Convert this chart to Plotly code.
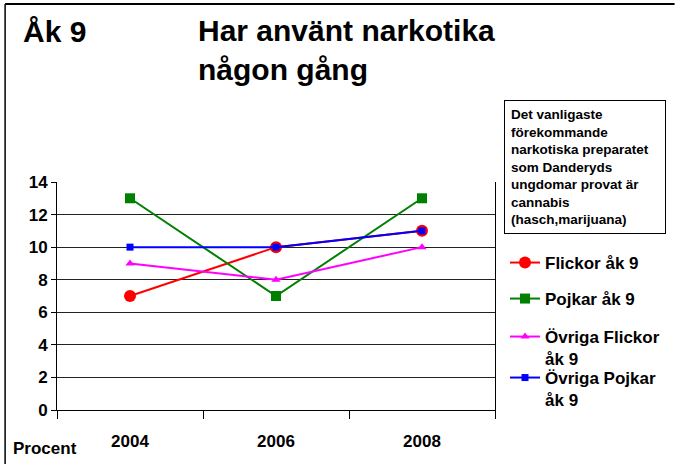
import plotly.graph_objects as go

# data
years = ["2004", "2006", "2008"]
flickor = [7, 10, 11]
pojkar = [13, 7, 13]
ovriga_flickor = [9, 8, 10]
ovriga_pojkar = [10, 10, 11]

y_ticks = [0, 2, 4, 6, 8, 10, 12, 14]

FONT = "Liberation Sans, Arial, sans-serif"
xpos = list(range(len(years)))

# plot area in pixels: x 57..496, y 182..410
L, R, T, B = 57, 496, 182, 410
W, H = R - L, B - T


def px(x):
    return (x - L) / W


def py(y):
    return (B - y) / H


series = [
    ("Flickor åk 9", flickor, "#ff0000", "circle", 12, 245),
    ("Pojkar åk 9", pojkar, "#008000", "square", 10, 281),
    ("Övriga Flickor<br>åk 9", ovriga_flickor, "#ff00ff", "triangle-up", 8, 319),
    ("Övriga Pojkar<br>åk 9", ovriga_pojkar, "#0000ff", "square", 7, 360),
]

fig = go.Figure()
legends = {}
for i, (name, vals, col, sym, size, ltop) in enumerate(series):
    lname = "legend" if i == 0 else "legend%d" % (i + 1)
    fig.add_trace(go.Scatter(
        x=xpos, y=vals, name=name, mode="lines+markers",
        line=dict(color=col, width=2),
        marker=dict(symbol=sym, size=size, color=col),
        legend=lname,
    ))
    legends[lname] = dict(
        x=px(505), y=py(ltop), xanchor="left", yanchor="top",
        font=dict(size=17, weight="bold"), valign="top",
        itemwidth=30, bgcolor="rgba(0,0,0,0)",
    )

fig.update_layout(
    width=676, height=464,
    margin=dict(l=L, r=676 - R, t=T, b=464 - B),
    paper_bgcolor="white", plot_bgcolor="white",
    font=dict(family=FONT, color="black"),
    showlegend=True,
    xaxis=dict(
        range=[-0.5, 2.5], tickvals=xpos, ticktext=years,
        ticks="", showgrid=False, zeroline=False,
        showline=True, linecolor="black", linewidth=1,
        tickfont=dict(size=17, weight="bold"),
        ticklabelstandoff=16,
        minor=dict(tickvals=[-0.5, 0.5, 1.5, 2.5], ticks="outside",
                   ticklen=8, tickcolor="black", showgrid=False),
    ),
    yaxis=dict(
        range=[0, 14], tickvals=y_ticks, ticks="outside", ticklen=5,
        tickcolor="black", showgrid=True, gridcolor="#222222", gridwidth=1,
        zeroline=False, showline=True, linecolor="black", mirror=True,
        tickfont=dict(size=17, weight="bold"),
    ),
    **legends,
)

# frame lines around the slide
fig.add_shape(type="line", xref="paper", yref="paper", x0=px(5), x1=px(676),
              y0=py(4), y1=py(4), line=dict(color="black", width=2))
fig.add_shape(type="line", xref="paper", yref="paper", x0=px(5), x1=px(5),
              y0=py(464), y1=py(4), line=dict(color="black", width=1.5))

fig.add_annotation(text="Åk 9", xref="paper", yref="paper", x=px(21), y=py(31),
                   xanchor="left", yanchor="middle", showarrow=False,
                   font=dict(size=30, weight="bold"))
fig.add_annotation(text="Har använt narkotika<br>någon gång", xref="paper", yref="paper",
                   x=px(196), y=py(12), xanchor="left", yanchor="top",
                   showarrow=False, align="left", font=dict(size=30, weight="bold"))
fig.add_annotation(text="Det vanligaste<br>förekommande<br>narkotiska preparatet<br>som Danderyds<br>"
                        "ungdomar provat är<br>cannabis<br>(hasch,marijuana)",
                   xref="paper", yref="paper", x=px(505), y=py(100),
                   xanchor="left", yanchor="top", showarrow=False, align="left",
                   width=148, bordercolor="black", borderwidth=1, borderpad=6,
                   bgcolor="white", font=dict(size=13.5, weight="bold"))
fig.add_annotation(text="Procent", xref="paper", yref="paper", x=px(11), y=py(448),
                   xanchor="left", yanchor="middle", showarrow=False,
                   font=dict(size=17, weight="bold"))

fig.write_html("out.html", config={"displayModeBar": False},
               post_script="document.body.style.margin='0';")
